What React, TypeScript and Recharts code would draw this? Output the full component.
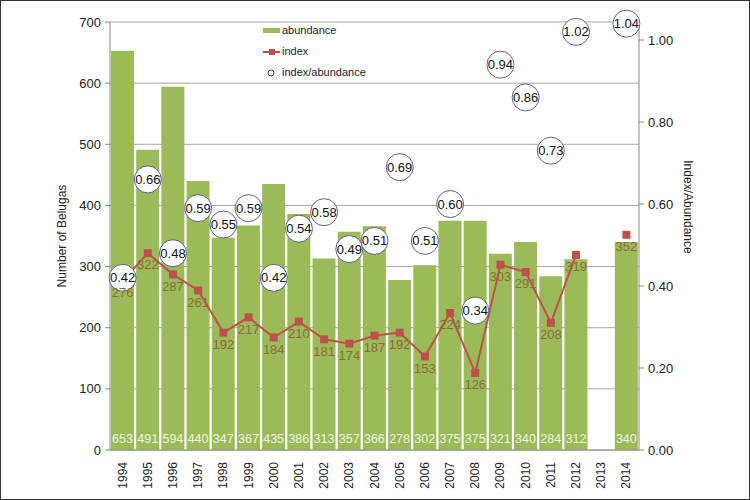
import {
  ComposedChart, Bar, Line, Scatter, XAxis, YAxis, CartesianGrid, LabelList, Label,
} from "recharts";

const years = [
  "1994", "1995", "1996", "1997", "1998", "1999", "2000", "2001", "2002", "2003", "2004",
  "2005", "2006", "2007", "2008", "2009", "2010", "2011", "2012", "2013", "2014",
];
const abundance = [
  653, 491, 594, 440, 347, 367, 435, 386, 313, 357, 366,
  278, 302, 375, 375, 321, 340, 284, 312, null, 340,
];
const indexValues = [
  276, 322, 287, 261, 192, 217, 184, 210, 181, 174, 187,
  192, 153, 224, 126, 303, 291, 208, 319, null, 352,
];
const ratios = [
  0.42, 0.66, 0.48, 0.59, 0.55, 0.59, 0.42, 0.54, 0.58, 0.49, 0.51,
  0.69, 0.51, 0.60, 0.34, 0.94, 0.86, 0.73, 1.02, null, 1.04,
];
const leftTicks = [0, 100, 200, 300, 400, 500, 600, 700];
const rightTicks = [0, 0.2, 0.4, 0.6, 0.8, 1.0];

const GREEN = "#9BBB59";
const RED = "#C0504D";
const FONT = "'Liberation Sans', Arial, sans-serif";

const data = years.map((year, i) => ({
  year,
  abundance: abundance[i],
  index: indexValues[i],
  ratio: ratios[i],
}));

function YearTick({ x, y, payload }: any) {
  return (
    <text
      transform={`translate(${x},${y + 4}) rotate(-90)`}
      textAnchor="end"
      dominantBaseline="central"
      fontSize={12}
      fill="#222"
      fontFamily={FONT}
    >
      {payload.value}
    </text>
  );
}

function SquareDot({ cx, cy, index }: any) {
  if (cy == null || isNaN(cy)) return <g key={`d${index}`} />;
  return <rect key={`d${index}`} x={cx - 4} y={cy - 4} width={8} height={8} fill={RED} />;
}

function RatioCircle({ cx, cy, payload }: any) {
  if (payload?.ratio == null || cy == null || isNaN(cy)) return <g />;
  return (
    <g>
      <circle cx={cx} cy={cy} r={13.5} fill="#fff" stroke="#4A4E94" strokeWidth={0.9} />
      <text
        x={cx}
        y={cy}
        textAnchor="middle"
        dominantBaseline="central"
        fontSize={13}
        fill="#111"
        fontFamily={FONT}
      >
        {payload.ratio.toFixed(2)}
      </text>
    </g>
  );
}

function BarValue({ x, y, width, height, value }: any) {
  if (value == null) return null;
  return (
    <text
      x={x + width / 2}
      y={y + height - 11}
      textAnchor="middle"
      dominantBaseline="central"
      fontSize={12.5}
      fill="#EEF4E0"
      fontFamily={FONT}
    >
      {value}
    </text>
  );
}

function LegendBox() {
  return (
    <div
      style={{
        position: "absolute", left: 263, top: 20, width: 150,
        fontFamily: FONT, fontSize: 11, color: "#222", lineHeight: "21px",
      }}
    >
      <div style={{ display: "flex", alignItems: "center" }}>
        <span style={{ width: 17, height: 5, background: GREEN, display: "inline-block", marginRight: 2 }} />
        abundance
      </div>
      <div style={{ display: "flex", alignItems: "center" }}>
        <svg width={19} height={8}>
          <line x1={0} y1={4} x2={17} y2={4} stroke={RED} strokeWidth={2} />
          <rect x={6} y={1} width={6} height={6} fill={RED} />
        </svg>
        index
      </div>
      <div style={{ display: "flex", alignItems: "center" }}>
        <svg width={19} height={8}>
          <circle cx={8} cy={4} r={3} fill="#fff" stroke="#444" strokeWidth={1} />
        </svg>
        index/abundance
      </div>
    </div>
  );
}

export default function App() {
  return (
    <div style={{ position: "absolute", left: 0, top: 0, width: 750, height: 500, background: "#fff" }}>
      <ComposedChart
        width={750}
        height={500}
        data={data}
        margin={{ top: 22, right: 0, bottom: 0, left: 0 }}
        barCategoryGap={1}
      >
        <CartesianGrid yAxisId="left" vertical={false} stroke="#A6A6A6" />
        <XAxis
          dataKey="year"
          interval={0}
          height={50}
          tickLine={false}
          axisLine={{ stroke: "#888" }}
          tick={<YearTick />}
        />
        <YAxis
          yAxisId="left"
          domain={[0, 700]}
          ticks={leftTicks}
          width={110}
          tickSize={5}
          tickMargin={4}
          axisLine={{ stroke: "#888" }}
          tickLine={{ stroke: "#888" }}
          tick={{ fill: "#222", fontSize: 13, fontFamily: FONT }}
        >
          <Label
            value="Number of Belugas"
            angle={-90}
            position="center"
            dx={7}
            style={{ fontSize: 12, fill: "#222", fontFamily: FONT }}
          />
        </YAxis>
        <YAxis
          yAxisId="right"
          orientation="right"
          domain={[0, 1.044]}
          ticks={rightTicks}
          width={111}
          tickSize={5}
          tickMargin={4}
          tickFormatter={(v: number) => v.toFixed(2)}
          axisLine={{ stroke: "#888" }}
          tickLine={{ stroke: "#888" }}
          tick={{ fill: "#222", fontSize: 13, fontFamily: FONT }}
        >
          <Label
            value="Index/Abundance"
            angle={90}
            position="center"
            dx={-6}
            dy={-29}
            style={{ fontSize: 12, fill: "#222", fontFamily: FONT }}
          />
        </YAxis>
        <Bar yAxisId="left" dataKey="abundance" fill={GREEN} isAnimationActive={false}>
          <LabelList dataKey="abundance" content={<BarValue />} />
        </Bar>
        <Line
          yAxisId="left"
          dataKey="index"
          stroke={RED}
          strokeWidth={2}
          dot={<SquareDot />}
          activeDot={false}
          isAnimationActive={false}
        >
          <LabelList
            dataKey="index"
            position="bottom"
            offset={7}
            style={{ fill: "#8E6B3A", fontSize: 13, fontFamily: FONT }}
          />
        </Line>
        <Scatter
          yAxisId="right"
          dataKey="ratio"
          shape={<RatioCircle />}
          isAnimationActive={false}
        />
      </ComposedChart>
      <LegendBox />
      <div
        style={{
          position: "absolute", left: 0, top: 0, width: 750, height: 500,
          boxSizing: "border-box", border: "1px solid #333", pointerEvents: "none",
        }}
      />
    </div>
  );
}
